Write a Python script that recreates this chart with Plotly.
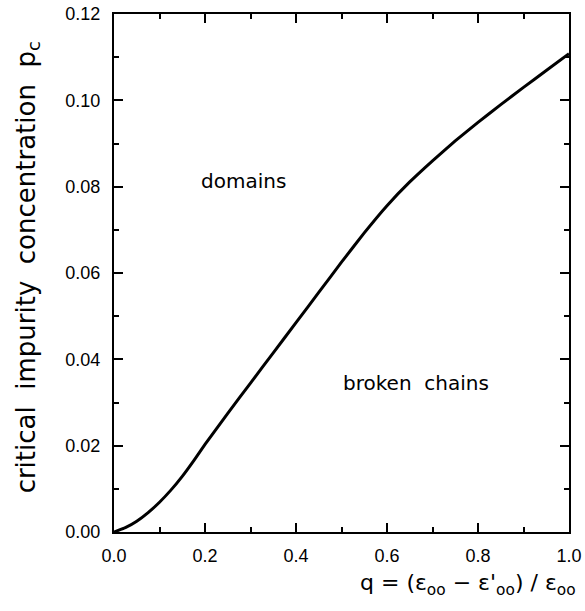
import plotly.graph_objects as go

q_values = [0.0, 0.025, 0.05, 0.075, 0.1, 0.125, 0.15, 0.175, 0.2, 0.25, 0.3, 0.35, 0.4, 0.45, 0.5,
            0.55, 0.6, 0.65, 0.7, 0.75, 0.8, 0.85, 0.9, 0.95, 1.0]
pc_values = [0.0, 0.0010, 0.0025, 0.0045, 0.0069, 0.0097, 0.0129, 0.0165, 0.0203, 0.0275, 0.0345,
             0.0415, 0.0485, 0.0555, 0.0625,
             0.0693, 0.0756, 0.0811, 0.0860, 0.0906, 0.0949, 0.0990, 0.1030, 0.1069, 0.1108]

x_ticks = [0.0, 0.2, 0.4, 0.6, 0.8, 1.0]
x_tick_labels = ["0.0", "0.2", "0.4", "0.6", "0.8", "1.0"]
y_ticks = [0.0, 0.02, 0.04, 0.06, 0.08, 0.10, 0.12]
y_tick_labels = ["0.00", "0.02", "0.04", "0.06", "0.08", "0.10", "0.12"]

region_labels = ["domains", "broken\u00a0\u00a0chains"]
region_x = [0.285, 0.663]
region_y = [0.0813, 0.0345]

title_font = "DejaVu Sans, sans-serif"
tick_font = "Liberation Sans, Arial, sans-serif"

fig = go.Figure()
fig.add_trace(go.Scatter(x=q_values, y=pc_values, mode="lines",
                         line=dict(color="black", width=3, shape="spline", smoothing=0.3),
                         showlegend=False, hoverinfo="skip"))

for lab, lx, ly in zip(region_labels, region_x, region_y):
    fig.add_annotation(x=lx, y=ly, text=lab, showarrow=False,
                       font=dict(size=20, color="black", family=title_font))

fig.add_annotation(xref="paper", yref="paper", x=1.0198, y=-0.102, xanchor="right", yanchor="middle",
                   text="q\u00a0=\u00a0(ε<sub>oo</sub>\u00a0−\u00a0ε'<sub>oo</sub>)\u00a0/\u00a0ε<sub>oo</sub>",
                   showarrow=False, font=dict(size=22, color="black", family=title_font))
fig.add_annotation(xref="paper", yref="paper", x=-0.19, y=0.51, xanchor="center", yanchor="middle",
                   text="critical\u00a0\u00a0impurity\u00a0\u00a0concentration\u00a0\u00a0p<sub>c</sub>",
                   textangle=-90,
                   showarrow=False, font=dict(size=26, color="black", family=title_font))

axis_common = dict(showgrid=False, zeroline=False, showline=True, linecolor="black", linewidth=2,
                   ticks="inside", tickcolor="black", tickwidth=2, ticklen=9, mirror="allticks",
                   automargin=False,
                   tickfont=dict(size=18, color="black", family=tick_font))

fig.update_xaxes(range=[0, 1.0], tickvals=x_ticks, ticktext=x_tick_labels, ticklabelstandoff=6,
                 minor=dict(ticks="inside", ticklen=5, tickwidth=2, tickcolor="black", dtick=0.1, tick0=0),
                 **axis_common)
fig.update_yaxes(range=[0, 0.12], tickvals=y_ticks, ticktext=y_tick_labels, ticklabelstandoff=8,
                 minor=dict(ticks="inside", ticklen=5, tickwidth=2, tickcolor="black", dtick=0.01, tick0=0),
                 **axis_common)

fig.update_layout(width=585, height=611, margin=dict(l=114, r=16, t=14, b=79, autoexpand=False),
                  plot_bgcolor="white", paper_bgcolor="white",
                  font=dict(family=tick_font, color="black"))

fig.write_html("out.html", config={"displayModeBar": False},
               post_script="document.body.style.margin='0';document.body.style.padding='0';")
